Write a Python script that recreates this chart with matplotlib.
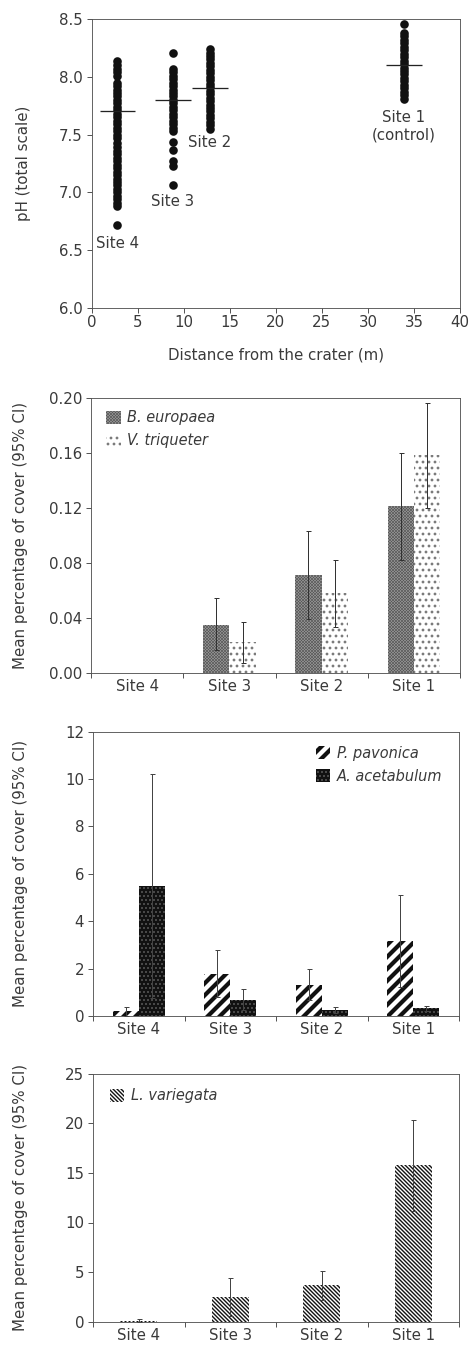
import matplotlib
matplotlib.use("Agg")
import matplotlib.pyplot as plt
import numpy as np
from matplotlib.ticker import FormatStrFormatter, FixedLocator

plt.rcParams['font.family'] = ['DejaVu Sans']
TXT = '#3a3a3a'
plt.rcParams['text.color'] = TXT
plt.rcParams['axes.labelcolor'] = TXT
plt.rcParams['xtick.color'] = '#444444'
plt.rcParams['ytick.color'] = '#444444'
plt.rcParams['xtick.labelcolor'] = TXT
plt.rcParams['ytick.labelcolor'] = TXT

# ---------------- data ----------------
site_dist = [2.8, 8.8, 12.8, 33.9]
site_labels_p1 = ["Site 4", "Site 3", "Site 2", "Site 1\n(control)"]
site4_ph = [6.72, 6.88, 6.91, 6.94, 6.97, 7.00, 7.03, 7.06, 7.09, 7.12, 7.15, 7.18,
            7.21, 7.24, 7.27, 7.30, 7.33, 7.36, 7.39, 7.43, 7.47, 7.50, 7.53, 7.56,
            7.59, 7.62, 7.65, 7.68, 7.71, 7.74, 7.77, 7.80, 7.83, 7.86, 7.89, 7.92,
            7.95, 8.01, 8.04, 8.07, 8.10, 8.14]
site3_ph = [7.06, 7.23, 7.27, 7.37, 7.44, 7.53, 7.56, 7.59, 7.62, 7.65, 7.68, 7.71,
            7.74, 7.77, 7.80, 7.83, 7.86, 7.89, 7.92, 7.95, 7.98, 8.01, 8.04, 8.07, 8.21]
site2_ph = [7.55, 7.58, 7.61, 7.64, 7.67, 7.70, 7.73, 7.76, 7.79, 7.82, 7.85, 7.88,
            7.91, 7.94, 7.97, 8.00, 8.03, 8.06, 8.09, 8.12, 8.15, 8.18, 8.21, 8.24]
site1_ph = [7.81, 7.84, 7.87, 7.90, 7.93, 7.96, 7.99, 8.02, 8.05, 8.08, 8.11, 8.14,
            8.17, 8.20, 8.23, 8.26, 8.29, 8.32, 8.35, 8.38, 8.46]
mean_ph = [7.7, 7.8, 7.9, 8.1]

sites = ["Site 4", "Site 3", "Site 2", "Site 1"]

beur_mean = [0.0, 0.035, 0.071, 0.121]
beur_lo = [0.0, 0.0165, 0.039, 0.082]
beur_hi = [0.0, 0.054, 0.103, 0.160]
vtri_mean = [0.0, 0.022, 0.058, 0.158]
vtri_lo = [0.0, 0.007, 0.033, 0.120]
vtri_hi = [0.0, 0.037, 0.082, 0.196]

ppav_mean = [0.20, 1.77, 1.31, 3.17]
ppav_lo = [0.00, 0.81, 0.67, 1.22]
ppav_hi = [0.40, 2.77, 2.00, 5.12]
aace_mean = [5.48, 0.67, 0.25, 0.32]
aace_lo = [0.76, 0.25, 0.14, 0.23]
aace_hi = [10.20, 1.12, 0.37, 0.42]

lvar_mean = [0.04, 2.48, 3.68, 15.8]
lvar_lo = [0.0, 0.6, 2.2, 11.2]
lvar_hi = [0.3, 4.36, 5.1, 20.36]

# ---------------- figure ----------------
DPI = 72
fig = plt.figure(figsize=(472 / DPI, 1346 / DPI), dpi=DPI)

FS = 15
spine_c = '#555555'


def style_axes(ax):
    for s in ax.spines.values():
        s.set_color(spine_c)
        s.set_linewidth(0.9)
    ax.tick_params(axis='both', which='major', direction='out', width=0.9,
                   labelsize=FS)
    ax.tick_params(axis='y', which='major', length=5, pad=4)
    ax.tick_params(top=False, right=False)


# Panel 1
ax1 = fig.add_axes([91.7 / 472, 1 - 308 / 1346, (460 - 91.7) / 472, (308 - 19) / 1346])
style_axes(ax1)
for d, ph in zip(site_dist, [site4_ph, site3_ph, site2_ph, site1_ph]):
    ax1.scatter([d] * len(ph), ph, s=74, color='#111111', linewidths=0, zorder=3)
for d, m in zip(site_dist, mean_ph):
    ax1.hlines(m, d - 1.95, d + 1.95, color='#222222', linewidth=1.3, zorder=4)
label_y = [6.56, 6.92, 7.43, 7.575]
for d, lab, ly in zip(site_dist, site_labels_p1, label_y):
    ax1.text(d, ly, lab, ha='center', va='center', fontsize=FS, linespacing=1.2)
ax1.set_xlim(0, 40)
ax1.set_ylim(6.0, 8.5)
ax1.set_xticks(np.arange(0, 41, 5))
ax1.set_yticks(np.arange(6.0, 8.51, 0.5))
ax1.yaxis.set_major_formatter(FormatStrFormatter('%.1f'))
ax1.tick_params(axis='x', length=5, pad=2)
ax1.set_ylabel("pH (total scale)", fontsize=FS, va='center')
ax1.yaxis.set_label_coords(-0.1865, 0.5)
ax1.set_xlabel("Distance from the crater (m)", fontsize=FS, va='center')
ax1.xaxis.set_label_coords(0.5, -0.1626)


def cat_axes(ax):
    ax.set_xlim(-0.5, 3.5)
    ax.xaxis.set_major_locator(FixedLocator([-0.5, 0.5, 1.5, 2.5, 3.5]))
    ax.xaxis.set_minor_locator(FixedLocator([0, 1, 2, 3]))
    ax.set_xticklabels([], minor=False)
    ax.set_xticklabels(sites, minor=True)
    ax.tick_params(axis='x', which='major', length=5, width=0.9)
    ax.tick_params(axis='x', which='minor', length=0, pad=6, labelsize=FS)


def hbar(ax, x, h, width, face, hatch, hcolor, hlw):
    with plt.rc_context({'hatch.linewidth': hlw}):
        bars = ax.bar(x, h, width=width, color=face, edgecolor=hcolor,
                      hatch=hatch, linewidth=0, zorder=2)
    for b in bars:
        if hasattr(b, 'set_hatch_linewidth'):
            b.set_hatch_linewidth(hlw)
    return bars


def ebar(ax, x, m, lo, hi, color='#333333'):
    xs, ms, el, eh = [], [], [], []
    for xi, mi, l, h in zip(x, m, lo, hi):
        if h > 0:
            xs.append(xi)
            ms.append(mi)
            el.append(mi - l)
            eh.append(h - mi)
    ax.errorbar(xs, ms, yerr=[el, eh], fmt='none', ecolor=color,
                elinewidth=1.0, capsize=2.5, capthick=1.0, zorder=5)


def fix_legend(leg, lws):
    for h, lw in zip(leg.legend_handles, lws):
        if hasattr(h, 'set_hatch_linewidth'):
            h.set_hatch_linewidth(lw)


x = np.arange(4)
W = 0.285
STY = {
    'beur': dict(face='#9a9a9a', hatch='x' * 8, hcolor='#555555', hlw=0.6),
    'vtri': dict(face='white', hatch='..', hcolor='#7a7a7a', hlw=1.6),
    'ppav': dict(face='white', hatch='//', hcolor='#111111', hlw=4.2),
    'aace': dict(face='#111111', hatch='...', hcolor='#8a8a8a', hlw=0.6),
    'lvar': dict(face='white', hatch='\\' * 6, hcolor='#111111', hlw=1.4),
}

LEG = dict(frameon=False, prop={'style': 'italic', 'size': FS - 0.5},
           handlelength=1.0, handleheight=1.0, handletextpad=0.45,
           labelspacing=0.55, borderpad=0, borderaxespad=0, loc='upper left')

# Panel 2
ax2 = fig.add_axes([91 / 472, 1 - 672.7 / 1346, (460 - 91) / 472, (672.7 - 397.7) / 1346])
style_axes(ax2)
cat_axes(ax2)
b1 = hbar(ax2, x - W / 2, beur_mean, W, **STY['beur'])
b2 = hbar(ax2, x + W / 2, vtri_mean, W, **STY['vtri'])
ebar(ax2, x - W / 2, beur_mean, beur_lo, beur_hi)
ebar(ax2, x + W / 2, vtri_mean, vtri_lo, vtri_hi)
ax2.set_ylim(0, 0.20)
ax2.set_yticks([0.0, 0.04, 0.08, 0.12, 0.16, 0.20])
ax2.yaxis.set_major_formatter(FormatStrFormatter('%.2f'))
ax2.set_ylabel("Mean percentage of cover (95% CI)", fontsize=FS, va='center')
ax2.yaxis.set_label_coords(-0.192, 0.5)
leg2 = ax2.legend([b1, b2], ["B. europaea", "V. triqueter"],
                  bbox_to_anchor=(0.041, 0.955), **LEG)
fix_legend(leg2, [0.6, 1.6])

# Panel 3
ax3 = fig.add_axes([93 / 472, 1 - 1016 / 1346, 366 / 472, (1016 - 731.7) / 1346])
style_axes(ax3)
cat_axes(ax3)
b3 = hbar(ax3, x - W / 2, ppav_mean, W, **STY['ppav'])
b4 = hbar(ax3, x + W / 2, aace_mean, W, **STY['aace'])
ebar(ax3, x - W / 2, ppav_mean, ppav_lo, ppav_hi, color='#444444')
ebar(ax3, x + W / 2, aace_mean, aace_lo, aace_hi, color='#444444')
ax3.set_ylim(0, 12)
ax3.set_yticks(np.arange(0, 13, 2))
ax3.set_ylabel("Mean percentage of cover (95% CI)", fontsize=FS, va='center')
ax3.yaxis.set_label_coords(-0.1975, 0.5)
leg3 = ax3.legend([b3, b4], ["P. pavonica", "A. acetabulum"],
                  bbox_to_anchor=(0.609, 0.95), **LEG)
fix_legend(leg3, [4.2, 0.6])

# Panel 4
ax4 = fig.add_axes([93 / 472, 1 - 1321.7 / 1346, 366 / 472, (1321.7 - 1073.7) / 1346])
style_axes(ax4)
cat_axes(ax4)
b5 = hbar(ax4, x, lvar_mean, 0.4, **STY['lvar'])
ebar(ax4, x, lvar_mean, lvar_lo, lvar_hi, color='#444444')
ax4.set_ylim(0, 25)
ax4.set_yticks(np.arange(0, 26, 5))
ax4.set_ylabel("Mean percentage of cover (95% CI)", fontsize=FS, va='center')
ax4.yaxis.set_label_coords(-0.1975, 0.5)
leg4 = ax4.legend([b5], ["L. variegata"], bbox_to_anchor=(0.046, 0.942), **LEG)
fix_legend(leg4, [1.4])

fig.savefig("out.png", dpi=DPI)
